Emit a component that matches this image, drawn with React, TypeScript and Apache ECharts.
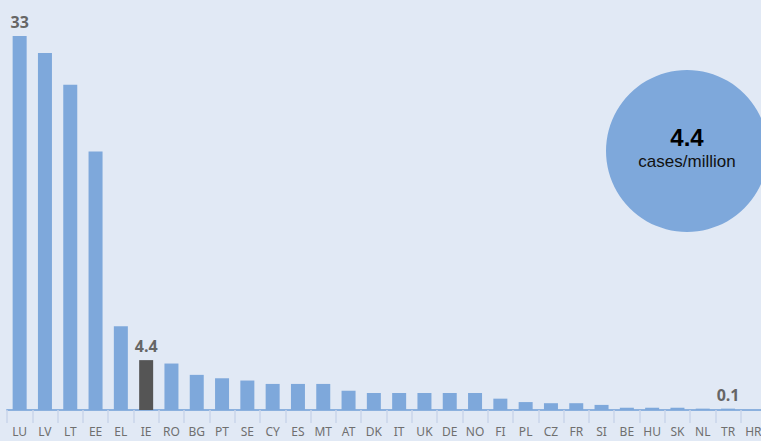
import React, { useEffect, useRef } from "react";
import * as echarts from "echarts";

const categories = ["LU", "LV", "LT", "EE", "EL", "IE", "RO", "BG", "PT", "SE", "CY", "ES", "MT", "AT", "DK", "IT", "UK", "DE", "NO", "FI", "PL", "CZ", "FR", "SI", "BE", "HU", "SK", "NL", "TR", "HR"];
const values = [33, 31.5, 28.7, 22.8, 7.4, 4.4, 4.1, 3.1, 2.8, 2.6, 2.3, 2.3, 2.3, 1.7, 1.5, 1.5, 1.5, 1.5, 1.5, 1.0, 0.7, 0.6, 0.6, 0.45, 0.2, 0.2, 0.2, 0.12, 0.12, 0];
const valueLabels: Record<string, string> = { LU: "33", IE: "4.4", TR: "0.1" };
const highlightCategory = "IE";
const bubbleValue = "4.4";
const bubbleUnit = "cases/million";

const BAR = "#7ea8db";
const HIGHLIGHT = "#555555";
const BG = "#e1e9f5";

export default function App() {
  const ref = useRef<HTMLDivElement>(null);
  useEffect(() => {
    const chart = echarts.init(ref.current!, null, { renderer: "svg" });
    const data = values.map((v, i) => {
      const c = categories[i];
      const item: any = { value: v };
      if (c === highlightCategory) item.itemStyle = { color: HIGHLIGHT };
      if (valueLabels[c] !== undefined) {
        const txt = valueLabels[c];
        item.label = {
          show: true,
          position: "top",
          distance: 6,
          color: "#666666",
          fontWeight: "bold",
          fontSize: 16,
          fontFamily: "Open Sans, sans-serif",
          formatter: () => txt,
        };
      }
      return item;
    });
    chart.setOption({
      animation: false,
      backgroundColor: BG,
      grid: { left: 7, width: 759, top: 36, bottom: 31, containLabel: false, outerBoundsMode: "none" },
      xAxis: {
        type: "category",
        data: categories,
        axisLine: { show: true, lineStyle: { color: "#8cb1de", width: 2 } },
        axisTick: { show: true, length: 13, alignWithLabel: false, lineStyle: { color: "#c8d5ea", width: 1.5 } },
        axisLabel: { color: "#6f6f6f", fontSize: 12, fontFamily: "Noto Sans, sans-serif", margin: 15, interval: 0 },
      },
      yAxis: { type: "value", min: 0, max: 33, show: false, splitLine: { show: false } },
      series: [
        {
          type: "bar",
          data,
          barWidth: 14,
          itemStyle: { color: BAR },
          label: { show: false },
        },
      ],
      graphic: [
        { type: "circle", shape: { cx: 687, cy: 151, r: 81 }, style: { fill: BAR } },
        {
          type: "text",
          x: 687,
          y: 137,
          style: { text: bubbleValue, fill: "#000", font: "bold 24px 'Liberation Sans', Arial, sans-serif", textAlign: "center", textVerticalAlign: "middle" },
        },
        {
          type: "text",
          x: 687,
          y: 161,
          style: { text: bubbleUnit, fill: "#111", font: "17px 'Liberation Sans', Arial, sans-serif", textAlign: "center", textVerticalAlign: "middle" },
        },
      ],
    });
    return () => chart.dispose();
  }, []);
  return <div ref={ref} style={{ position: "fixed", left: 0, top: 0, width: 761, height: 441 }} />;
}
